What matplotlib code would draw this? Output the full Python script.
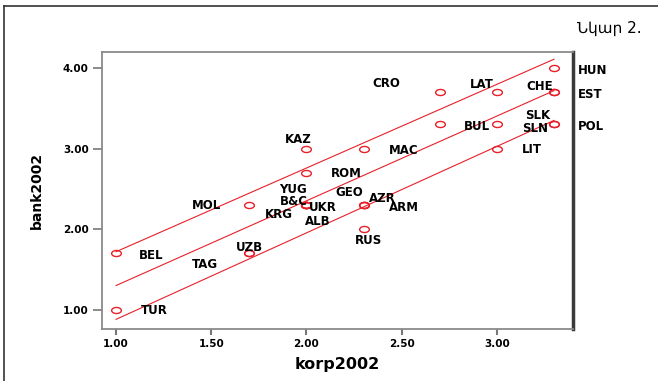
import matplotlib.pyplot as plt
from matplotlib.lines import Line2D
from matplotlib.path import Path
from matplotlib.transforms import Affine2D

# donnees
pays = ['HUN', 'CRO', 'LAT', 'CHE', 'EST', 'BUL', 'SLN', 'SLK', 'POL', 'LIT', 'MAC', 'KAZ', 'ROM',
        'YUG', 'GEO', 'B&C', 'UKR', 'AZR', 'ARM', 'MOL', 'KRG', 'ALB', 'RUS', 'BEL', 'UZB', 'TAG', 'TUR']
korp2002 = [3.3, 2.7, 3.0, 3.3, 3.3, 2.7, 3.0, 3.3, 3.3, 3.0, 2.3, 2.0, 2.0,
            2.0, 2.3, 2.0, 2.0, 2.3, 2.3, 1.7, 2.0, 2.0, 2.3, 1.0, 1.7, 1.7, 1.0]
bank2002 = [4.0, 3.7, 3.7, 3.7, 3.7, 3.3, 3.3, 3.3, 3.3, 3.0, 3.0, 3.0, 2.7,
            2.3, 2.3, 2.3, 2.3, 2.3, 2.3, 2.3, 2.3, 2.3, 2.0, 1.7, 1.7, 1.7, 1.0]

# droite d'ajustement et intervalles (extremites lues)
fit_x = [1.0, 3.3]
fit_mid = [1.30, 3.72]
fit_haut = [1.72, 4.11]
fit_bas = [0.88, 3.35]

xticks = [1.0, 1.5, 2.0, 2.5, 3.0]
yticks = [1.0, 2.0, 3.0, 4.0]

# decalage des etiquettes en pixels (dx, dy vers le haut)
decal = {'HUN': (24, -2), 'CRO': (-67, 9), 'LAT': (-27, 8), 'CHE': (-28, 6), 'EST': (24, -2),
         'BUL': (24, -2), 'SLN': (25, -4), 'SLK': (-29, 9), 'POL': (24, -2), 'LIT': (25, -1),
         'MAC': (25, -2), 'KAZ': (-22, 9), 'ROM': (24, -1), 'YUG': (-27, 15), 'GEO': (-28, 12),
         'B&C': (-27, 3), 'UKR': (2, -3), 'AZR': (5, 6), 'ARM': (25, -3), 'MOL': (-57, -1),
         'KRG': (-42, -10), 'ALB': (-2, -17), 'RUS': (-9, -11), 'BEL': (23, -2), 'UZB': (-13, 6),
         'TAG': (-57, -11), 'TUR': (25, -1)}

fig = plt.figure(figsize=(6.58, 3.81), dpi=100)
W, H = 658, 381
ax = fig.add_axes([102 / W, (H - 329) / H, (573 - 102) / W, (329 - 52) / H])

# cadre de la figure
fig.add_artist(Line2D([4 / W, 1], [1 - 6 / H, 1 - 6 / H], color='#333333', lw=1.2))
fig.add_artist(Line2D([4 / W, 4 / W], [0, 1 - 6 / H], color='#333333', lw=1.2))
fig.text(642 / W, 1 - 28 / H, 'Նկար 2.', ha='right', va='center', fontsize=11, family='DejaVu Sans')

# cercle aplati comme dans SPSS
ellipse = Path.unit_circle().transformed(Affine2D().scale(1.6, 1.0))

rouge = '#e8202a'
ax.plot(fit_x, fit_mid, color=rouge, lw=0.8)
ax.plot(fit_x, fit_haut, color=rouge, lw=0.8)
ax.plot(fit_x, fit_bas, color=rouge, lw=0.8)
ax.plot(korp2002, bank2002, ls='none', marker=ellipse, ms=7, mfc='none', mec=rouge, mew=1.0)

for p, x, y in zip(pays, korp2002, bank2002):
    dx, dy = decal[p]
    ax.annotate(p, (x, y), xytext=(dx * 0.72, dy * 0.72), textcoords='offset points',
                ha='left', va='center', fontsize=8.5, fontweight='bold', annotation_clip=False)

ax.set_xlim(0.926, 3.40)
ax.set_ylim(0.76, 4.2)
ax.set_xticks(xticks)
ax.set_xticklabels(['%.2f' % v for v in xticks])
ax.set_yticks(yticks)
ax.set_yticklabels(['%.2f' % v for v in yticks])
ax.tick_params(axis='y', length=6.5, width=1.2, color='#777777', labelsize=7.5, pad=3)
ax.tick_params(axis='x', length=4, width=1.5, color='#777777', labelsize=7.5, pad=3)
for lab in ax.get_xticklabels() + ax.get_yticklabels():
    lab.set_fontweight('bold')

for s in ['left', 'top', 'bottom']:
    ax.spines[s].set_color('#8a8a8a')
    ax.spines[s].set_linewidth(1.3)
ax.spines['right'].set_color('#3a3a3a')
ax.spines['right'].set_linewidth(2.5)

fig.text(337 / W, 1 - 365 / H, 'korp2002', ha='center', va='center', fontsize=11.5, fontweight='bold')
fig.text(37 / W, 1 - 190 / H, 'bank2002', ha='center', va='center', fontsize=10,
         fontweight='bold', rotation=90)

plt.savefig('out.png', dpi=100)
